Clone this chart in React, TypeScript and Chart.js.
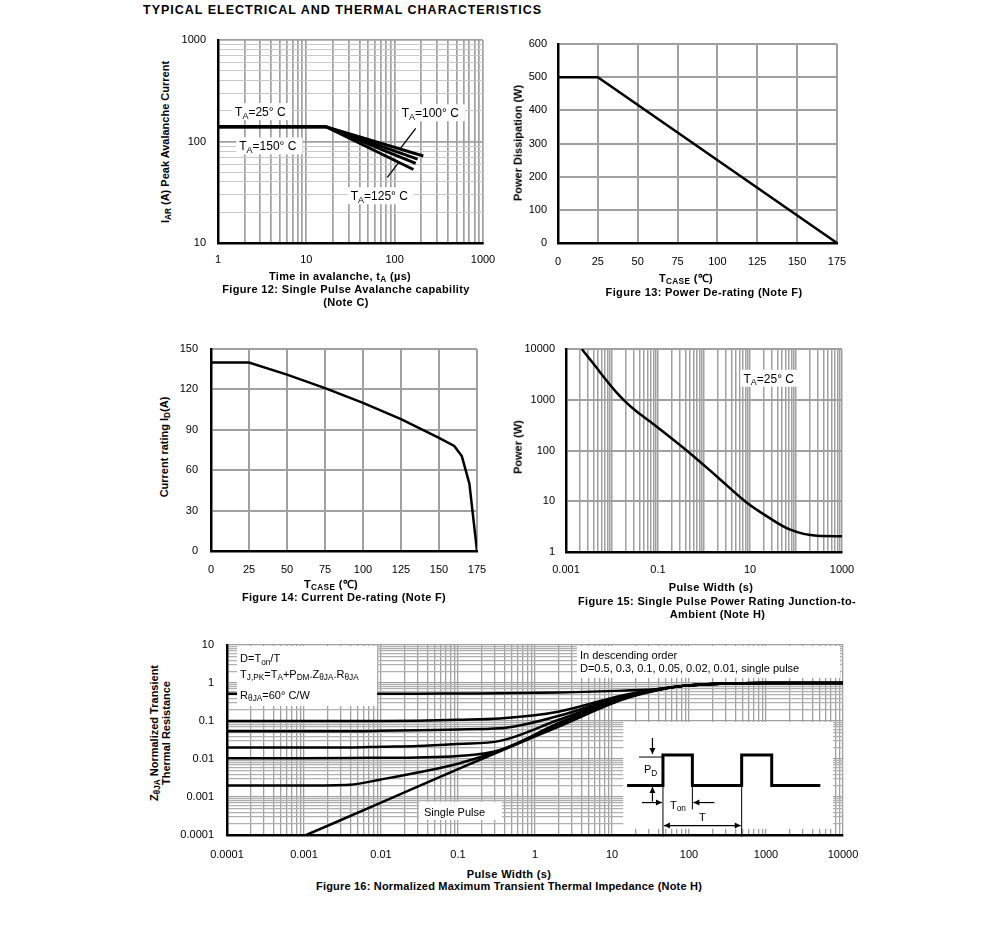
import React, { useEffect, useRef } from 'react';
import { Chart, registerables } from 'chart.js';

Chart.register(...registerables);

const FONT = '"Liberation Sans", Arial, Helvetica, sans-serif';
const GRID = '#a0a0a0';
const GRID_LIGHT = '#c8c8c8';

// ===== Figure 12: Single Pulse Avalanche capability =====
const fig12XTickLabels = ['1', '10', '100', '1000'];
const fig12YTickLabels = ['10', '100', '1000'];
const fig12TimeA = [1, 16.6, 211];
const fig12CurrentA = [140, 140, 72];
const fig12TimeB = [1, 16.6, 182];
const fig12CurrentB = [140, 140, 67];
const fig12TimeC = [1, 16.6, 173];
const fig12CurrentC = [140, 140, 61];
const fig12TimeD = [1, 16.6, 163];
const fig12CurrentD = [140, 140, 53];
const fig12LabelText = ['T_{A}=25° C', 'T_{A}=150° C', 'T_{A}=100° C', 'T_{A}=125° C'];
const fig12LabelX = [1.56, 1.74, 120, 31.8];
const fig12LabelY = [197, 90.3, 192, 29.2];
const fig12LeaderFromX = [173, 82.6];
const fig12LeaderFromY = [135, 44.4];
const fig12LeaderToX = [113, 113];
const fig12LeaderToY = [82.5, 63.2];

// ===== Figure 13: Power De-rating =====
const fig13Temp = [0, 25, 175];
const fig13Power = [500, 500, 0];

// ===== Figure 14: Current De-rating =====
const fig14Temp = [0, 25, 50, 75, 100, 125, 150, 160, 165, 170, 175];
const fig14Current = [140, 140, 131, 121, 110, 98, 84, 78, 70.5, 50, 0];

// ===== Figure 15: Single Pulse Power Rating =====
const fig15XTickLabels = ['0.001', '0.1', '10', '1000'];
const fig15YTickLabels = ['1', '10', '100', '1000', '10000'];
const fig15Width = [0.0022, 0.0045, 0.008, 0.0125, 0.02, 0.035, 0.08, 0.42, 1.9, 7.9, 23.4, 75, 286, 1000];
const fig15Power = [10000, 4400, 2265, 1400, 900, 578, 330, 100, 30.8, 9.9, 5.03, 2.75, 2.09, 2.05];
const fig15LabelText = 'T_{A}=25° C';
const fig15LabelX = 7.2;
const fig15LabelY = 2650;

// ===== Figure 16: Normalized Maximum Transient Thermal Impedance =====
const fig16XTickLabels = ['0.0001', '0.001', '0.01', '0.1', '1', '10', '100', '1000', '10000'];
const fig16YTickLabels = ['0.0001', '0.001', '0.01', '0.1', '1', '10'];
const fig16Width = [1e-4, 1e-3, 4e-3, 0.01, 0.03, 0.1, 0.35, 2, 14, 40, 84, 300, 1000, 10000];
const fig16ZD05 = [0.52, 0.52, 0.52, 0.52, 0.52, 0.53, 0.535, 0.56, 0.63, 0.7, 0.84, 0.97, 1.0, 1.0];
const fig16ZD03 = [0.1, 0.1, 0.1, 0.1, 0.102, 0.108, 0.117, 0.176, 0.48, 0.7, 0.84, 0.97, 1.0, 1.0];
const fig16ZD01 = [0.054, 0.054, 0.054, 0.055, 0.057, 0.06, 0.064, 0.135, 0.45, 0.69, 0.84, 0.97, 1.0, 1.0];
const fig16ZD005 = [0.02, 0.02, 0.02, 0.021, 0.022, 0.025, 0.03, 0.106, 0.42, 0.68, 0.84, 0.97, 1.0, 1.0];
const fig16ZD002 = [0.0105, 0.0105, 0.0106, 0.0108, 0.011, 0.012, 0.017, 0.088, 0.4, 0.67, 0.84, 0.97, 1.0, 1.0];
const fig16ZD001 = [0.002, 0.002, 0.0021, 0.0029, 0.0044, 0.0075, 0.017, 0.079, 0.39, 0.66, 0.84, 0.97, 1.0, 1.0];
const fig16SingleWidth = [0.00107, 0.01, 0.1, 0.35, 2, 14, 40, 84, 300, 1000, 10000];
const fig16ZSingle = [0.0001, 0.00071, 0.0054, 0.016, 0.07, 0.37, 0.65, 0.84, 0.97, 1.0, 1.0];
const fig16PulseX = [15.7, 45.9, 45.9, 110.6, 110.6, 483, 483, 1186, 1186, 5080];
const fig16PulseY = [0.002, 0.002, 0.0127, 0.0127, 0.002, 0.002, 0.0127, 0.0127, 0.002, 0.002];
const fig16NoteBox = [1.35e-4, 8.9e-3, 0.248, 9.4];
const fig16NoteLines = ['D=T_{on}/T', 'T_{J,PK}=T_{A}+P_{DM}.Z_{θJA}.R_{θJA}', 'R_{θJA}=60° C/W'];
const fig16NoteX = 1.48e-4;
const fig16NoteY = [4.47, 1.73, 0.483];
const fig16OrderBox = [3.5, 9150, 1.36, 9.4];
const fig16OrderLines = ['In descending order', 'D=0.5, 0.3, 0.1, 0.05, 0.02, 0.01, single pulse'];
const fig16OrderX = 3.84;
const fig16OrderY = [5.46, 2.44];
const fig16SingleBox = [0.0312, 0.372, 2.5e-4, 7.4e-4];
const fig16SingleText = 'Single Pulse';
const fig16SingleX = 0.0361;
const fig16SingleY = 4.0e-4;
const fig16InsetBox = [14, 7400, 1.45e-4, 0.094];

// ===== helpers =====
const zip = (xs: number[], ys: number[]) => xs.map((x, i) => ({ x, y: ys[i] }));

function logTicks(minExp: number, maxExp: number, minors: boolean) {
  const t: { value: number; major: boolean }[] = [];
  for (let e = minExp; e < maxExp; e++) {
    const d = Math.pow(10, e);
    for (let k = 1; k <= 9; k++) {
      if (!minors && k > 1) continue;
      t.push({ value: k * d, major: k === 1 });
    }
  }
  t.push({ value: Math.pow(10, maxExp), major: true });
  return t;
}

function logAxis(o: {
  min: number; max: number; labels: string[]; minors: boolean; pad: number;
  majorColor?: string; minorColor?: string; majorWidth?: number; minorWidth?: number;
}) {
  const minExp = Math.round(Math.log10(o.min));
  const maxExp = Math.round(Math.log10(o.max));
  return {
    type: 'logarithmic',
    min: o.min,
    max: o.max,
    afterBuildTicks: (s: any) => { s.ticks = logTicks(minExp, maxExp, o.minors); },
    ticks: {
      autoSkip: false, maxRotation: 0, minRotation: 0, padding: o.pad, color: '#000',
      font: { family: FONT, size: 11 },
      callback: (v: number) => {
        const l = o.labels.find((s) => Math.abs(Math.log10(Number(s)) - Math.log10(v)) < 1e-6);
        return l ?? '';
      },
    },
    grid: {
      drawTicks: false,
      color: (c: any) => (c.tick && c.tick.major ? o.majorColor ?? GRID : o.minorColor ?? GRID),
      lineWidth: (c: any) => (c.tick && c.tick.major ? o.majorWidth ?? 1.5 : o.minorWidth ?? 1.5),
    },
    border: { display: true, color: '#000', width: 2.5 },
  };
}

function linAxis(min: number, max: number, step: number, pad: number) {
  return {
    type: 'linear', min, max,
    ticks: { stepSize: step, padding: pad, color: '#000', font: { family: FONT, size: 11 }, maxRotation: 0, autoSkip: false },
    grid: { drawTicks: false, color: GRID, lineWidth: 2 },
    border: { display: true, color: '#000', width: 2.5 },
  };
}

const lineDs = (data: { x: number; y: number }[], width = 2.5, smooth = false) => ({
  data, borderColor: '#000', borderWidth: width, pointRadius: 0, fill: false,
  tension: 0, cubicInterpolationMode: smooth ? 'monotone' : 'default',
});

function parseRich(s: string) {
  const out: { t: string; sub: boolean }[] = [];
  const re = /_\{([^}]*)\}/g;
  let last = 0;
  let m: RegExpExecArray | null;
  while ((m = re.exec(s))) {
    if (m.index > last) out.push({ t: s.slice(last, m.index), sub: false });
    out.push({ t: m[1], sub: true });
    last = re.lastIndex;
  }
  if (last < s.length) out.push({ t: s.slice(last), sub: false });
  return out;
}

function richWidth(ctx: CanvasRenderingContext2D, s: string, size: number) {
  let w = 0;
  for (const p of parseRich(s)) {
    ctx.font = `${p.sub ? size * 0.75 : size}px ${FONT}`;
    w += ctx.measureText(p.t).width;
  }
  return w;
}

function drawRich(ctx: CanvasRenderingContext2D, s: string, x: number, yMid: number, size: number, align: 'left' | 'center' = 'left') {
  const w = richWidth(ctx, s, size);
  let cx = align === 'center' ? x - w / 2 : x;
  const base = yMid + size * 0.36;
  ctx.fillStyle = '#000';
  ctx.textAlign = 'left';
  ctx.textBaseline = 'alphabetic';
  for (const p of parseRich(s)) {
    const fs = p.sub ? size * 0.75 : size;
    ctx.font = `${fs}px ${FONT}`;
    ctx.fillText(p.t, cx, p.sub ? base + size * 0.22 : base);
    cx += ctx.measureText(p.t).width;
  }
  return w;
}

function labelBox(ctx: CanvasRenderingContext2D, s: string, x: number, yMid: number, size = 12) {
  const w = richWidth(ctx, s, size);
  ctx.fillStyle = '#fff';
  ctx.fillRect(x - 3, yMid - 8.5, w + 9, 17);
  drawRich(ctx, s, x, yMid, size);
}

function arrow(ctx: CanvasRenderingContext2D, x1: number, y1: number, x2: number, y2: number, headEnd = true, headStart = false) {
  ctx.beginPath();
  ctx.moveTo(x1, y1);
  ctx.lineTo(x2, y2);
  ctx.stroke();
  const head = (hx: number, hy: number, fx: number, fy: number) => {
    const a = Math.atan2(hy - fy, hx - fx);
    const L = 6, W = 3;
    ctx.beginPath();
    ctx.moveTo(hx, hy);
    ctx.lineTo(hx - L * Math.cos(a) + W * Math.sin(a), hy - L * Math.sin(a) - W * Math.cos(a));
    ctx.lineTo(hx - L * Math.cos(a) - W * Math.sin(a), hy - L * Math.sin(a) + W * Math.cos(a));
    ctx.closePath();
    ctx.fill();
  };
  if (headEnd) head(x2, y2, x1, y1);
  if (headStart) head(x1, y1, x2, y2);
}

// ===== plugins =====
const fig12Plugin = {
  id: 'fig12Ann',
  afterDatasetsDraw(chart: any) {
    const { ctx, scales: { x, y } } = chart;
    ctx.save();
    fig12LabelText.forEach((t, i) => labelBox(ctx, t, x.getPixelForValue(fig12LabelX[i]), y.getPixelForValue(fig12LabelY[i])));
    ctx.strokeStyle = '#000';
    ctx.lineWidth = 1.3;
    fig12LeaderFromX.forEach((_, i) => {
      ctx.beginPath();
      ctx.moveTo(x.getPixelForValue(fig12LeaderFromX[i]), y.getPixelForValue(fig12LeaderFromY[i]));
      ctx.lineTo(x.getPixelForValue(fig12LeaderToX[i]), y.getPixelForValue(fig12LeaderToY[i]));
      ctx.stroke();
    });
    ctx.restore();
  },
};

const fig15Plugin = {
  id: 'fig15Ann',
  afterDatasetsDraw(chart: any) {
    const { ctx, scales: { x, y } } = chart;
    ctx.save();
    labelBox(ctx, fig15LabelText, x.getPixelForValue(fig15LabelX), y.getPixelForValue(fig15LabelY));
    ctx.restore();
  },
};

const fig16Plugin = {
  id: 'fig16Ann',
  afterDatasetsDraw(chart: any) {
    const { ctx, scales: { x, y } } = chart;
    const X = (v: number) => x.getPixelForValue(v);
    const Y = (v: number) => y.getPixelForValue(v);
    const rect = (b: number[]) => {
      ctx.fillStyle = '#fff';
      ctx.fillRect(X(b[0]), Y(b[3]), X(b[1]) - X(b[0]), Y(b[2]) - Y(b[3]));
    };
    ctx.save();
    rect(fig16NoteBox);
    fig16NoteLines.forEach((t, i) => drawRich(ctx, t, X(fig16NoteX), Y(fig16NoteY[i]), 11));
    rect(fig16OrderBox);
    fig16OrderLines.forEach((t, i) => drawRich(ctx, t, X(fig16OrderX), Y(fig16OrderY[i]), 11));
    rect(fig16SingleBox);
    drawRich(ctx, fig16SingleText, X(fig16SingleX), Y(fig16SingleY), 11);
    // inset pulse diagram
    rect(fig16InsetBox);
    ctx.strokeStyle = '#000';
    ctx.fillStyle = '#000';
    ctx.lineWidth = 3;
    ctx.lineJoin = 'miter';
    ctx.beginPath();
    fig16PulseX.forEach((px, i) => {
      if (i === 0) ctx.moveTo(X(px), Y(fig16PulseY[i]));
      else ctx.lineTo(X(px), Y(fig16PulseY[i]));
    });
    ctx.stroke();
    const x1 = X(fig16PulseX[1]);
    const x2 = X(fig16PulseX[3]);
    const x3 = X(fig16PulseX[5]);
    const yL = Y(fig16PulseY[0]);
    const yH = Y(fig16PulseY[2]);
    ctx.lineWidth = 1;
    ctx.beginPath();
    ctx.moveTo(x1 - 24, yH + 2); ctx.lineTo(x1, yH + 2);
    ctx.moveTo(x1, yL); ctx.lineTo(x1, yL + 51);
    ctx.moveTo(x2, yL); ctx.lineTo(x2, yL + 24);
    ctx.moveTo(x3, yL); ctx.lineTo(x3, yL + 51);
    ctx.stroke();
    ctx.lineWidth = 1.2;
    arrow(ctx, x1 - 10.5, yH - 17, x1 - 10.5, yH - 1);
    arrow(ctx, x1 - 10.5, yL + 16, x1 - 10.5, yL + 1.5);
    arrow(ctx, x1 - 21, yL + 17, x1 - 1, yL + 17);
    arrow(ctx, x2 + 22, yL + 17, x2 + 1, yL + 17);
    arrow(ctx, x1 + 1, yL + 40, x3 - 1, yL + 40, true, true);
    drawRich(ctx, 'P_{D}', x1 - 19, (yL + yH) / 2 - 1, 11);
    drawRich(ctx, 'T_{on}', x1 + 7, yL + 19, 11);
    drawRich(ctx, 'T', (x1 + x3) / 2, yL + 31, 11, 'center');
    ctx.restore();
  },
};

// ===== chart component =====
type Plot = { l: number; t: number; r: number; b: number };

function ChartCanvas({ plot, yW, xH, padTop = 12, padRight = 26, build }: {
  plot: Plot; yW: number; xH: number; padTop?: number; padRight?: number; build: () => any;
}) {
  const ref = useRef<HTMLCanvasElement>(null);
  const left = plot.l - yW;
  const top = plot.t - padTop;
  const width = yW + plot.r - plot.l + padRight;
  const height = padTop + plot.b - plot.t + xH;
  useEffect(() => {
    const cfg = build();
    cfg.options.layout = { autoPadding: false, padding: { top: padTop, right: padRight, left: 0, bottom: 0 } };
    cfg.options.scales.x.afterFit = (s: any) => {
      s.height = xH; s.paddingLeft = 0; s.paddingRight = 0; s.paddingTop = 0; s.paddingBottom = 0;
    };
    cfg.options.scales.y.afterFit = (s: any) => {
      s.width = yW; s.paddingLeft = 0; s.paddingRight = 0; s.paddingTop = 0; s.paddingBottom = 0;
    };
    const c = new Chart(ref.current as HTMLCanvasElement, cfg);
    return () => c.destroy();
  }, []);
  return <canvas ref={ref} width={width} height={height} style={{ position: 'absolute', left, top, width, height }} />;
}

const baseOptions = () => ({
  animation: false,
  responsive: false,
  maintainAspectRatio: false,
  events: [],
  plugins: { legend: { display: false }, tooltip: { enabled: false } },
});

const Sub = ({ children }: { children: React.ReactNode }) => (
  <span style={{ fontSize: '0.75em', position: 'relative', top: '0.3em' }}>{children}</span>
);

function Txt({ x, y, children, bold = true, size = 11, rotate = false, align = 'center', lh = 1.15, ls = 0 }: {
  x: number; y: number; children: React.ReactNode; bold?: boolean; size?: number; rotate?: boolean; align?: 'center' | 'left'; lh?: number; ls?: number;
}) {
  const tx = align === 'center' ? '-50%' : '0';
  return (
    <div
      style={{
        position: 'absolute', left: x, top: y,
        transform: `translate(${tx},-50%)${rotate ? ' rotate(-90deg)' : ''}`,
        whiteSpace: 'nowrap', fontWeight: bold ? 700 : 400, fontSize: size, lineHeight: lh,
        fontFamily: FONT, color: '#000', textAlign: 'center', letterSpacing: ls,
      }}
    >
      {children}
    </div>
  );
}

const CAP_LS = 0.35;

export default function App() {
  return (
    <div style={{ position: 'absolute', left: 0, top: 0, width: 991, height: 932, background: '#fff', overflow: 'hidden' }}>
      <Txt x={143} y={10} size={12.5} align="left" ls={1}>TYPICAL ELECTRICAL AND THERMAL CHARACTERISTICS</Txt>

      {/* Figure 12 */}
      <ChartCanvas
        plot={{ l: 218, t: 40, r: 483, b: 243 }} yW={43} xH={28}
        build={() => ({
          type: 'line',
          data: {
            datasets: [
              lineDs(zip(fig12TimeA, fig12CurrentA), 3),
              lineDs(zip(fig12TimeB, fig12CurrentB), 3),
              lineDs(zip(fig12TimeC, fig12CurrentC), 3),
              lineDs(zip(fig12TimeD, fig12CurrentD), 3),
            ],
          },
          options: {
            ...baseOptions(),
            scales: {
              x: logAxis({ min: 1, max: 1000, labels: fig12XTickLabels, minors: true, pad: 10, majorColor: GRID, minorColor: GRID, majorWidth: 1.7, minorWidth: 1.7 }),
              y: logAxis({ min: 10, max: 1000, labels: fig12YTickLabels, minors: true, pad: 12, majorColor: GRID, minorColor: GRID_LIGHT, majorWidth: 1.7, minorWidth: 1 }),
            },
          },
          plugins: [fig12Plugin],
        })}
      />
      <Txt x={165} y={142} rotate>I<Sub>AR</Sub> (A) Peak Avalanche Current</Txt>
      <Txt x={340} y={275.5} ls={CAP_LS}>Time in avalanche, t<Sub>A</Sub> (µs)</Txt>
      <Txt x={346} y={288.5} ls={CAP_LS}>Figure 12: Single Pulse Avalanche capability</Txt>
      <Txt x={346} y={301.5} ls={CAP_LS}>(Note C)</Txt>

      {/* Figure 13 */}
      <ChartCanvas
        plot={{ l: 558, t: 44, r: 837, b: 243 }} yW={38} xH={28}
        build={() => ({
          type: 'line',
          data: { datasets: [lineDs(zip(fig13Temp, fig13Power), 2.5)] },
          options: {
            ...baseOptions(),
            scales: { x: linAxis(0, 175, 25, 12), y: linAxis(0, 600, 100, 11) },
          },
        })}
      />
      <Txt x={517.5} y={143} rotate>Power Dissipation (W)</Txt>
      <Txt x={686} y={278} ls={CAP_LS}>T<Sub>CASE</Sub> (℃)</Txt>
      <Txt x={704} y={291.5} ls={CAP_LS}>Figure 13: Power De-rating (Note F)</Txt>

      {/* Figure 14 */}
      <ChartCanvas
        plot={{ l: 211, t: 349, r: 477, b: 551 }} yW={36} xH={30}
        build={() => ({
          type: 'line',
          data: { datasets: [lineDs(zip(fig14Temp, fig14Current), 2.5)] },
          options: {
            ...baseOptions(),
            scales: { x: linAxis(0, 175, 25, 12), y: linAxis(0, 150, 30, 13) },
          },
        })}
      />
      <Txt x={163.5} y={447} rotate>Current rating I<Sub>D</Sub>(A)</Txt>
      <Txt x={331} y={584} ls={CAP_LS}>T<Sub>CASE</Sub> (℃)</Txt>
      <Txt x={344} y={596.5} ls={CAP_LS}>Figure 14: Current De-rating (Note F)</Txt>

      {/* Figure 15 */}
      <ChartCanvas
        plot={{ l: 566, t: 349, r: 842, b: 552 }} yW={46} xH={28}
        build={() => ({
          type: 'line',
          data: { datasets: [lineDs(zip(fig15Width, fig15Power), 2.5, true)] },
          options: {
            ...baseOptions(),
            scales: {
              x: logAxis({ min: 0.001, max: 1000, labels: fig15XTickLabels, minors: true, pad: 11, majorWidth: 1.5, minorWidth: 1.5 }),
              y: logAxis({ min: 1, max: 10000, labels: fig15YTickLabels, minors: false, pad: 11, majorWidth: 2 }),
            },
          },
          plugins: [fig15Plugin],
        })}
      />
      <Txt x={517.5} y={447} rotate>Power (W)</Txt>
      <Txt x={711} y={586.5} ls={CAP_LS}>Pulse Width (s)</Txt>
      <Txt x={717} y={600.5} ls={CAP_LS}>Figure 15: Single Pulse Power Rating Junction-to-</Txt>
      <Txt x={717.5} y={614} ls={CAP_LS}>Ambient (Note H)</Txt>

      {/* Figure 16 */}
      <ChartCanvas
        plot={{ l: 227, t: 645, r: 843, b: 835 }} yW={52} xH={30}
        build={() => ({
          type: 'line',
          data: {
            datasets: [
              lineDs(zip(fig16Width, fig16ZD05), 2.5, true),
              lineDs(zip(fig16Width, fig16ZD03), 2.5, true),
              lineDs(zip(fig16Width, fig16ZD01), 2.5, true),
              lineDs(zip(fig16Width, fig16ZD005), 2.5, true),
              lineDs(zip(fig16Width, fig16ZD002), 2.5, true),
              lineDs(zip(fig16Width, fig16ZD001), 2.5, true),
              lineDs(zip(fig16SingleWidth, fig16ZSingle), 2.5, true),
            ],
          },
          options: {
            ...baseOptions(),
            scales: {
              x: logAxis({ min: 0.0001, max: 10000, labels: fig16XTickLabels, minors: true, pad: 13, majorWidth: 1.3, minorWidth: 1.3 }),
              y: logAxis({ min: 0.0001, max: 10, labels: fig16YTickLabels, minors: true, pad: 13, majorColor: GRID, minorColor: '#b0b0b0', majorWidth: 1.3, minorWidth: 1.2 }),
            },
          },
          plugins: [fig16Plugin],
        })}
      />
      <Txt x={161} y={733} rotate lh={1.07}>
        Z<Sub>θJA</Sub> Normalized Transient
        <br />
        Thermal Resistance
      </Txt>
      <Txt x={509} y={873.5} ls={CAP_LS}>Pulse Width (s)</Txt>
      <Txt x={509} y={886} ls={0.2}>Figure 16: Normalized Maximum Transient Thermal Impedance (Note H)</Txt>
    </div>
  );
}
